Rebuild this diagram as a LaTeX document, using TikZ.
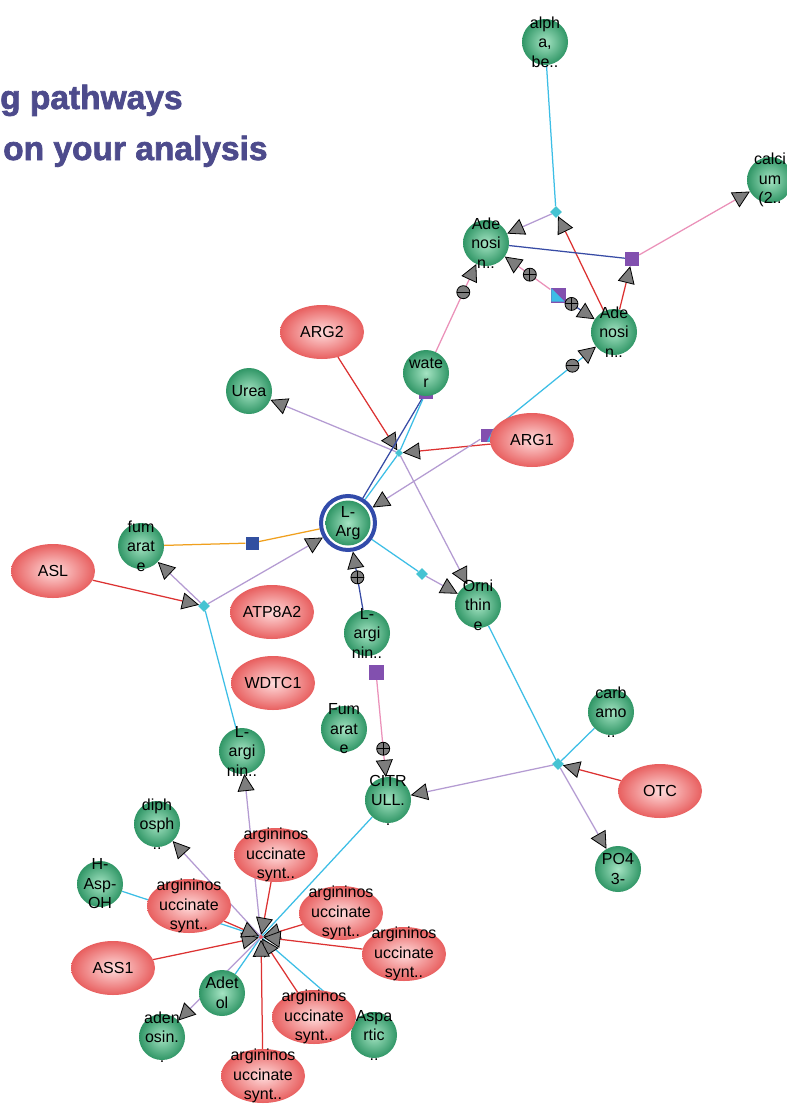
\documentclass[tikz,border=0pt]{standalone}
\usepackage{fontspec}
\setmainfont{Liberation Sans}
\newfontfamily\ttlfont[BoldFeatures={FakeBold=2}]{Liberation Sans}
\usetikzlibrary{arrows.meta,shapes.geometric}
\pgfdeclarelayer{bg}
\pgfsetlayers{bg,main}
\definecolor{cyanl}{RGB}{60,190,230}
\definecolor{purl}{RGB}{180,155,210}
\definecolor{redl}{RGB}{220,50,50}
\definecolor{pinkl}{RGB}{235,145,185}
\definecolor{dbl}{RGB}{55,75,165}
\definecolor{orl}{RGB}{240,160,30}
\definecolor{sqpur}{RGB}{130,80,175}
\definecolor{sqblue}{RGB}{50,80,160}
\definecolor{dcyan}{RGB}{70,195,210}
\definecolor{arrg}{RGB}{125,125,125}
\definecolor{ringc}{RGB}{50,75,170}
\definecolor{titlec}{RGB}{77,75,140}
\definecolor{gin}{RGB}{165,228,195}
\definecolor{gout}{RGB}{48,150,102}
\definecolor{rin}{RGB}{255,220,220}
\definecolor{rout}{RGB}{232,95,95}
\definecolor{hubc}{RGB}{230,90,110}
\tikzset{
 lbl/.style={font=\fontsize{16}{19.5}\selectfont, align=center, text=black, inner sep=0pt},
 gnode/.style={circle, minimum size=46pt, inner sep=0pt, shading=radial, inner color=gin, outer color=gout},
 rnode/.style={ellipse, minimum width=84pt, minimum height=54pt, inner sep=0pt, shading=radial, inner color=rin, outer color=rout},
 diam/.style={diamond, fill=dcyan, minimum size=12pt, inner sep=0pt},
 sq/.style={rectangle, fill=sqpur, minimum size=14pt, inner sep=0pt},
 ln/.style={line width=1.25pt},
 tip/.style={-{Triangle[length=17pt,width=17pt,color=black,fill=arrg,line width=0.8pt]}},
 pminus/.style={circle, draw=black, fill=arrg, minimum size=13pt, inner sep=0pt, line width=0.8pt,
   path picture={\draw[line width=1pt] (path picture bounding box.west) -- (path picture bounding box.east);}},
 pplus/.style={circle, draw=black, fill=arrg, minimum size=13pt, inner sep=0pt, line width=0.8pt,
   path picture={\draw[line width=1pt] (path picture bounding box.west) -- (path picture bounding box.east) (path picture bounding box.north) -- (path picture bounding box.south);}},
 ttl/.style={anchor=base west, inner sep=0pt, text=titlec, font={\ttlfont\bfseries\fontsize{33.5}{36}\selectfont}}
}
\begin{document}
\begin{tikzpicture}[x=1pt,y=-1pt]
\useasboundingbox (0,0) rectangle (787,1106);
% title
\node[ttl] (t1) at (0,109) {g pathways};
\node[ttl] (t2) at (3,160) {on your analysis};
% junctions drawn behind nodes
\node[sq] (S3) at (426,392) {};
\node[sq, minimum size=13pt] (S4) at (487,435) {};
\fill[cyanl] (S4.north east) -- (S4.south east) -- (S4.south) -- cycle;
% green nodes
\node[gnode, label={[lbl]center:{alph\\a,\\be..}}] (alpha) at (545,42) {};
\node[gnode, label={[lbl]center:{calci\\um\\(2..}}] (calc) at (770,180) {};
\node[gnode, label={[lbl]center:{Ade\\nosi\\n..}}] (ad1) at (486,243) {};
\node[gnode, label={[lbl]center:{Ade\\nosi\\n..}}] (ad2) at (614,332) {};
\node[gnode, label={[lbl]center:{wate\\r}}] (water) at (426,373) {};
\node[gnode, label={[lbl]center:{Urea}}] (urea) at (249,391) {};
\node[circle, draw=ringc, line width=4pt, fill=white, minimum size=54pt, inner sep=0pt] (larg) at (348,523) {};
\node[gnode, minimum size=45pt, label={[lbl]center:{L-\\Arg}}] (largin) at (larg.center) {};
\node[gnode, label={[lbl]center:{fum\\arat\\e}}] (fum1) at (141,546) {};
\node[gnode, label={[lbl]center:{Orni\\thin\\e}}] (orni) at (478,605) {};
\node[gnode, label={[lbl]center:{L-\\argi\\nin..}}] (largm) at (367,633) {};
\node[gnode, label={[lbl]center:{Fum\\arat\\e}}] (fum2) at (344,729) {};
\node[gnode, label={[lbl]center:{L-\\argi\\nin..}}] (largl) at (242,751) {};
\node[gnode, label={[lbl]center:{carb\\amo\\..}}] (carb) at (611,712) {};
\node[gnode, label={[lbl]center:{CITR\\ULL.\\.}}] (citr) at (388,800) {};
\node[gnode, label={[lbl]center:{PO4\\3-}}] (po4) at (618,869) {};
\node[gnode, label={[lbl]center:{diph\\osph\\..}}] (diph) at (157,824) {};
\node[gnode, label={[lbl]center:{H-\\Asp-\\OH}}] (hasp) at (100,884) {};
\node[gnode, label={[lbl]center:{Adet\\ol}}] (adetol) at (222,993) {};
\node[gnode, label={[lbl]center:{aden\\osin.\\.}}] (aden) at (162,1037) {};
\node[gnode, label={[lbl]center:{Aspa\\rtic\\..}}] (aspa) at (374,1035) {};
% red nodes
\node[rnode, label={[lbl]center:{ARG2}}] (arg2) at (322,332) {};
\node[rnode, label={[lbl]center:{ARG1}}] (arg1) at (532,440) {};
\node[rnode, label={[lbl]center:{ASL}}] (asl) at (53,571) {};
\node[rnode, label={[lbl]center:{ATP8A2}}] (atp) at (272,612) {};
\node[rnode, label={[lbl]center:{WDTC1}}] (wdtc) at (273,683) {};
\node[rnode, label={[lbl]center:{OTC}}] (otc) at (660,791) {};
\node[rnode, label={[lbl]center:{ASS1}}] (ass1) at (113,968) {};
\node[rnode, label={[lbl]center:{argininos\\uccinate\\synt..}}] (stop) at (276,855) {};
\node[rnode, label={[lbl]center:{argininos\\uccinate\\synt..}}] (sleft) at (189,906) {};
\node[rnode, label={[lbl]center:{argininos\\uccinate\\synt..}}] (sra) at (341,913) {};
\node[rnode, label={[lbl]center:{argininos\\uccinate\\synt..}}] (srb) at (404,954) {};
\node[rnode, label={[lbl]center:{argininos\\uccinate\\synt..}}] (sba) at (314,1017) {};
\node[rnode, label={[lbl]center:{argininos\\uccinate\\synt..}}] (sbb) at (263,1076) {};
% junctions
\node[diam] (D1) at (556,212) {};
\node[sq] (S1) at (632,259) {};
\node[sq, minimum size=15pt] (S2) at (558,295) {};
\fill[cyanl] ([shift={(1,1)}]S2.north west) -- ([shift={(-1,-1)}]S2.south east) -- ([shift={(1,-1)}]S2.south west) -- cycle;
\node[diam, minimum size=8pt] (H1) at (399,453) {};
\node[diam] (D2) at (422,574) {};
\node[rectangle, fill=sqblue, minimum size=13pt, inner sep=0pt] (S5) at (252,543) {};
\node[diam] (D3) at (204,606) {};
\node[sq, minimum width=15pt, minimum height=15pt] (S6) at (376,672) {};
\node[diam] (D4) at (558,764) {};
\node[diamond, fill=hubc, minimum size=5pt, inner sep=0pt] (H2) at (261,937) {};
% connectors
\begin{pgfonlayer}{bg}
\fill[white] (0,0) rectangle (787,1106);
\draw[ln,cyanl] (alpha) -- (D1);
\draw[ln,purl,tip] (D1) -- (ad1);
\draw[ln,redl,tip] (ad2) -- (D1);
\draw[ln,redl,tip] (ad2) -- (S1);
\draw[ln,dbl] (ad1) -- (S1);
\draw[ln,pinkl,tip] (S1) -- (calc);
\draw[ln,pinkl,tip] (S2) -- coordinate[pos=0.45] (m1) (ad1);
\draw[ln,dbl,tip] (S2) -- coordinate[pos=0.2] (m2) (ad2);
\draw[ln,pinkl,tip] (water) -- coordinate[pos=0.68] (m3) (ad1);
\draw[ln,cyanl,tip] (S4) -- coordinate[pos=0.77] (m4) (ad2);
\draw[ln,redl,tip] (arg2) -- (H1);
\draw[ln,redl,tip] (arg1) -- (H1);
\draw[ln,purl,tip] (H1) -- (urea);
\draw[ln,purl,tip] (H1) -- (orni);
\draw[ln,dbl] (S3) -- (larg);
\draw[ln,cyanl] (S3) -- (H1) -- (larg);
\draw[ln,purl,tip] (S4) -- (larg);
\draw[ln,cyanl] (larg) -- (D2);
\draw[ln,purl,tip] (D2) -- (orni);
\draw[ln,orl] (fum1) -- (S5) -- (larg);
\draw[ln,redl,tip] (asl) -- (D3);
\draw[ln,purl,tip] (D3) -- (fum1);
\draw[ln,purl,tip] (D3) -- (larg);
\draw[ln,cyanl] (D3) -- (largl);
\draw[ln,dbl,tip] (largm) -- coordinate[pos=0.56] (m5) (larg);
\draw[ln,pinkl,tip] (S6) -- coordinate[pos=0.71] (m6) (citr);
\draw[ln,cyanl] (orni) -- (D4);
\draw[ln,cyanl] (carb) -- (D4);
\draw[ln,redl,tip] (otc) -- (D4);
\draw[ln,purl,tip] (D4) -- (citr);
\draw[ln,purl,tip] (D4) -- (po4);
\draw[ln,cyanl] (citr) -- (H2);
\draw[ln,cyanl] (hasp) -- (H2);
\draw[ln,cyanl] (adetol) -- (H2);
\draw[ln,cyanl] (aspa) -- (H2);
\draw[ln,purl,tip] (H2) -- (largl);
\draw[ln,purl,tip] (H2) -- (diph);
\draw[ln,purl,tip] (H2) -- (aden);
\draw[ln,redl,tip] (ass1) -- (H2);
\draw[ln,redl,tip] (stop) -- (H2);
\draw[ln,redl,tip] (sleft) -- (H2);
\draw[ln,redl,tip] (sra) -- (H2);
\draw[ln,redl,tip] (srb) -- (H2);
\draw[ln,redl,tip] (sba) -- (H2);
\draw[ln,redl,tip] (sbb) -- (H2);
\end{pgfonlayer}
% markers
\node[pplus] (k1) at (m1) {};
\node[pplus] (k2) at (m2) {};
\node[pminus] (k3) at (m3) {};
\node[pminus] (k4) at (m4) {};
\node[pplus] (k5) at (m5) {};
\node[pplus] (k6) at (m6) {};
\end{tikzpicture}
\end{document}
